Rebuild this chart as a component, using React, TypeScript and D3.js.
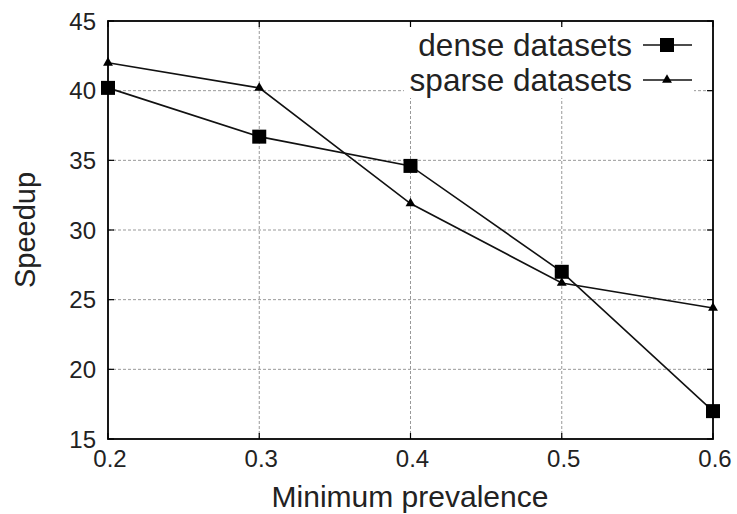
import React, { useEffect, useRef } from 'react';
import * as d3 from 'd3';

const prevalence = [0.2, 0.3, 0.4, 0.5, 0.6];
const denseSpeedup = [40.2, 36.7, 34.6, 27.0, 17.0];
const sparseSpeedup = [42.0, 40.2, 31.9, 26.2, 24.4];
const xTicks = [0.2, 0.3, 0.4, 0.5, 0.6];
const yTicks = [15, 20, 25, 30, 35, 40, 45];

const App = () => {
    const svgRef = useRef<SVGSVGElement>(null);

    useEffect(() => {
        const margin = { top: 21, right: 24, bottom: 75, left: 108 };
        const W = 737, H = 514;
        const width = W - margin.left - margin.right;
        const height = H - margin.top - margin.bottom;
        const font = "'Liberation Sans', Arial, sans-serif";

        const svg = d3.select(svgRef.current)
            .attr("width", W)
            .attr("height", H)
            .style("display", "block")
            .style("background", "#fff");
        svg.selectAll("*").remove();

        const g = svg.append("g").attr("transform", `translate(${margin.left},${margin.top})`);

        const x = d3.scaleLinear().domain([0.2, 0.6]).range([0, width]);
        const y = d3.scaleLinear().domain([15, 45]).range([height, 0]);

        // grid
        g.selectAll(".gx").data(xTicks.slice(1, -1)).join("line")
            .attr("x1", d => x(d)).attr("x2", d => x(d))
            .attr("y1", 0).attr("y2", height)
            .attr("stroke", "#999").attr("stroke-width", 1).attr("stroke-dasharray", "3,2");
        g.selectAll(".gy").data(yTicks.slice(1, -1)).join("line")
            .attr("x1", 0).attr("x2", width)
            .attr("y1", d => y(d)).attr("y2", d => y(d))
            .attr("stroke", "#999").attr("stroke-width", 1).attr("stroke-dasharray", "3,2");

        // legend background
        g.append("rect")
            .attr("x", 296).attr("y", 6).attr("width", 290).attr("height", 71)
            .attr("fill", "#fff");

        // inward ticks on all sides
        const tick = 6;
        xTicks.forEach(t => {
            g.append("line").attr("x1", x(t)).attr("x2", x(t)).attr("y1", height).attr("y2", height - tick)
                .attr("stroke", "#000").attr("stroke-width", 1.2);
            g.append("line").attr("x1", x(t)).attr("x2", x(t)).attr("y1", 0).attr("y2", tick)
                .attr("stroke", "#000").attr("stroke-width", 1.2);
        });
        yTicks.forEach(t => {
            g.append("line").attr("x1", 0).attr("x2", tick).attr("y1", y(t)).attr("y2", y(t))
                .attr("stroke", "#000").attr("stroke-width", 1.2);
            g.append("line").attr("x1", width).attr("x2", width - tick).attr("y1", y(t)).attr("y2", y(t))
                .attr("stroke", "#000").attr("stroke-width", 1.2);
        });

        // frame
        g.append("rect")
            .attr("x", 0).attr("y", 0).attr("width", width).attr("height", height)
            .attr("fill", "none").attr("stroke", "#000").attr("stroke-width", 1.8);

        // tick labels
        g.selectAll(".yl").data(yTicks).join("text")
            .attr("x", -12).attr("y", d => y(d)).attr("dy", "0.36em")
            .attr("text-anchor", "end")
            .style("font-family", font).style("font-size", "24px").attr("fill", "#222")
            .text(d => d);
        g.selectAll(".xl").data(xTicks).join("text")
            .attr("x", d => x(d) + 2).attr("y", height + 28)
            .attr("text-anchor", "middle")
            .style("font-family", font).style("font-size", "24px").attr("fill", "#222")
            .text(d => d.toFixed(1));

        // axis titles
        svg.append("text")
            .attr("x", 410).attr("y", 507)
            .attr("text-anchor", "middle")
            .style("font-family", font).style("font-size", "30px").attr("fill", "#222")
            .text("Minimum prevalence");
        svg.append("text")
            .attr("transform", `translate(35,230) rotate(-90)`)
            .attr("text-anchor", "middle")
            .style("font-family", font).style("font-size", "29px").attr("fill", "#222")
            .text("Speedup");

        const line = d3.line<number>()
            .x((d, i) => x(prevalence[i]))
            .y(d => y(d));

        // dense series
        g.append("path").datum(denseSpeedup)
            .attr("d", line).attr("fill", "none").attr("stroke", "#111").attr("stroke-width", 1.6);
        g.selectAll(".dm").data(denseSpeedup).join("rect")
            .attr("x", (d, i) => x(prevalence[i]) - 7).attr("y", d => y(d) - 7)
            .attr("width", 14).attr("height", 14).attr("fill", "#000");

        // sparse series
        const tri = d3.symbol().type(d3.symbolTriangle).size(42);
        g.append("path").datum(sparseSpeedup)
            .attr("d", line).attr("fill", "none").attr("stroke", "#111").attr("stroke-width", 1.6);
        g.selectAll(".sm").data(sparseSpeedup).join("path")
            .attr("transform", (d, i) => `translate(${x(prevalence[i])},${y(d)})`)
            .attr("d", tri).attr("fill", "#000");

        // legend
        const legend = [
            { label: "dense datasets", kind: "square" },
            { label: "sparse datasets", kind: "triangle" },
        ];
        legend.forEach((l, i) => {
            const ly = 24 + i * 35;
            g.append("text")
                .attr("x", 524).attr("y", ly).attr("dy", "0.36em")
                .attr("text-anchor", "end")
                .style("font-family", font).style("font-size", "31.5px").attr("fill", "#222")
                .text(l.label);
            g.append("line").attr("x1", 535).attr("x2", 584).attr("y1", ly).attr("y2", ly)
                .attr("stroke", "#111").attr("stroke-width", 1.6);
            if (l.kind === "square") {
                g.append("rect").attr("x", 559 - 7).attr("y", ly - 7).attr("width", 14).attr("height", 14).attr("fill", "#000");
            } else {
                g.append("path").attr("transform", `translate(559,${ly})`).attr("d", tri).attr("fill", "#000");
            }
        });
    }, []);

    return (
        <React.Fragment>
            <svg ref={svgRef} style={{ position: 'absolute', left: 0, top: 0 }} />
        </React.Fragment>
    );
};

export default App;
